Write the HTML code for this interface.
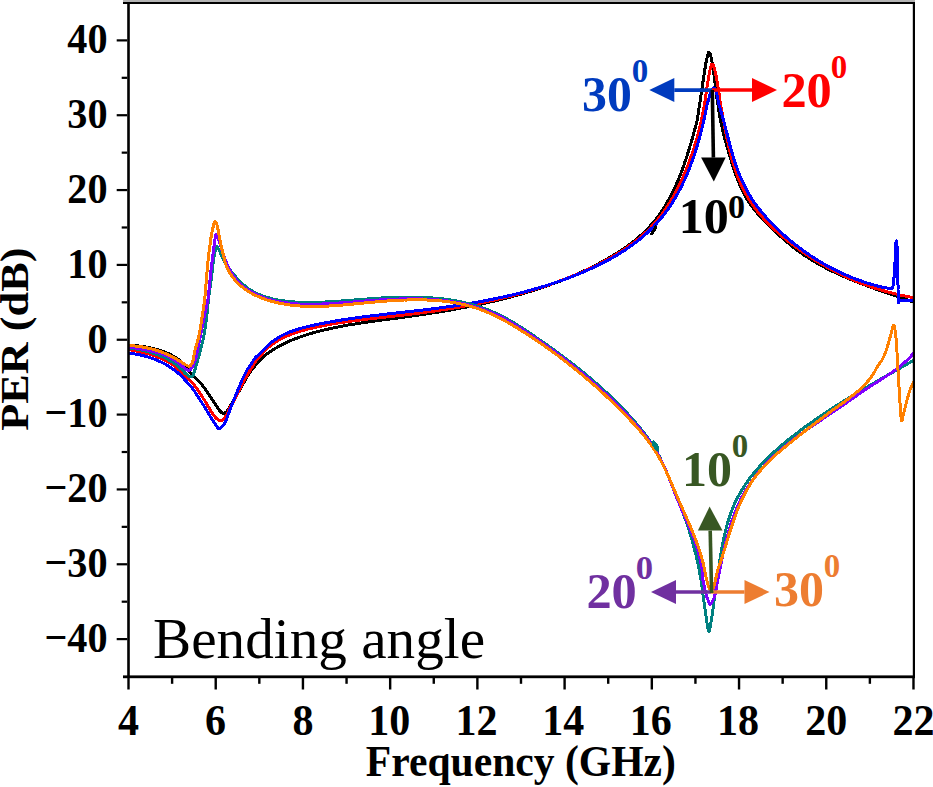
<!DOCTYPE html><html><head><meta charset="utf-8"><style>html,body{margin:0;padding:0;background:#fff;}svg{display:block;}</style></head><body><svg width="933" height="787" viewBox="0 0 933 787">
<rect width="933" height="787" fill="#fff"/>
<defs><clipPath id="cp"><rect x="129" y="3.5" width="784" height="672"/></clipPath></defs>
<g clip-path="url(#cp)" fill="none" stroke-width="3.00" stroke-linejoin="round" stroke-linecap="round" shape-rendering="crispEdges">
<path stroke="#000" d="M129.0,345.0 L131.0,345.2 L133.1,345.4 L135.1,345.6 L137.2,345.8 L139.3,346.1 L141.3,346.4 L143.4,346.7 L145.5,347.0 L147.6,347.4 L149.6,347.8 L151.7,348.2 L153.7,348.7 L155.7,349.2 L157.8,349.8 L159.8,350.4 L161.7,351.0 L163.7,351.7 L165.6,352.5 L167.5,353.2 L169.4,354.1 L171.2,355.0 L173.0,356.0 L174.8,357.0 L176.5,358.1 L178.2,359.2 L179.9,360.4 L181.5,361.7 L183.0,363.1 L184.5,364.5 L186.0,366.0 L186.0,366.0 L186.4,366.7 L187.0,367.7 L187.6,368.9 L188.4,370.1 L189.2,371.4 L190.0,372.5 L190.9,373.6 L191.9,374.6 L193.0,375.7 L194.1,376.7 L195.1,377.6 L196.0,378.5 L196.8,379.3 L197.4,379.9 L198.1,380.5 L198.7,381.1 L199.3,381.7 L200.0,382.5 L200.8,383.4 L201.6,384.4 L202.4,385.4 L203.3,386.5 L204.2,387.7 L205.0,388.8 L205.8,390.0 L206.7,391.2 L207.5,392.4 L208.3,393.7 L209.2,394.9 L210.0,396.2 L210.8,397.5 L211.7,398.7 L212.5,400.0 L213.3,401.3 L214.2,402.6 L215.0,403.8 L215.9,405.1 L216.7,406.4 L217.6,407.7 L218.5,409.0 L219.3,410.1 L220.0,411.0 L220.6,411.7 L221.1,412.3 L221.6,412.7 L222.0,413.0 L222.5,413.2 L223.0,413.3 L223.6,413.3 L224.3,413.1 L225.0,412.8 L225.7,412.3 L226.4,411.9 L227.0,411.3 L227.5,410.7 L228.0,410.0 L228.4,409.2 L228.9,408.3 L229.4,407.3 L230.0,406.3 L230.7,405.1 L231.5,403.9 L232.4,402.5 L233.3,401.1 L234.1,399.7 L235.0,398.3 L235.8,396.9 L236.7,395.4 L237.5,394.0 L238.3,392.5 L239.2,391.0 L240.0,389.5 L240.8,388.0 L241.7,386.5 L242.5,385.0 L243.3,383.4 L244.2,382.0 L245.0,380.5 L245.8,379.1 L246.7,377.6 L247.5,376.2 L248.3,374.9 L249.2,373.5 L250.0,372.3 L250.8,371.1 L251.7,370.0 L252.5,369.0 L253.3,368.0 L254.2,367.0 L255.0,366.0 L255.8,365.0 L256.7,364.1 L257.5,363.2 L258.3,362.3 L259.2,361.4 L260.0,360.5 L260.9,359.6 L261.9,358.6 L262.8,357.7 L263.7,356.8 L264.5,356.0 L265.0,355.5 L265.0,355.5 L266.6,354.3 L268.2,353.1 L269.9,351.9 L271.5,350.8 L273.2,349.7 L274.9,348.7 L276.6,347.6 L278.4,346.7 L280.1,345.7 L281.9,344.8 L283.7,343.9 L285.4,343.0 L287.3,342.1 L289.1,341.3 L290.9,340.5 L292.7,339.8 L294.6,339.0 L296.5,338.3 L298.3,337.6 L300.2,336.9 L302.1,336.3 L304.0,335.6 L305.9,335.0 L307.8,334.4 L309.8,333.8 L311.7,333.3 L313.6,332.7 L315.5,332.2 L317.5,331.7 L319.4,331.2 L321.4,330.7 L323.3,330.2 L325.3,329.7 L327.2,329.3 L329.2,328.8 L331.1,328.4 L333.1,328.0 L335.1,327.6 L337.0,327.2 L339.0,326.8 L341.0,326.4 L343.0,326.0 L345.0,325.6 L346.9,325.3 L348.9,324.9 L350.9,324.6 L352.9,324.3 L354.9,324.0 L356.9,323.6 L358.9,323.3 L360.9,323.0 L362.8,322.7 L364.8,322.4 L366.8,322.1 L368.8,321.8 L370.8,321.6 L372.8,321.3 L374.8,321.0 L376.8,320.7 L378.8,320.5 L380.8,320.2 L382.8,319.9 L384.8,319.7 L386.8,319.4 L388.9,319.1 L390.9,318.9 L392.9,318.6 L394.9,318.3 L396.9,318.1 L398.9,317.8 L400.9,317.5 L402.9,317.3 L404.9,317.0 L406.9,316.7 L408.8,316.4 L410.8,316.2 L412.8,315.9 L414.8,315.6 L416.8,315.3 L418.8,315.0 L420.8,314.7 L422.8,314.4 L424.8,314.1 L426.8,313.8 L428.8,313.5 L430.7,313.2 L432.7,312.9 L434.7,312.6 L436.7,312.3 L438.7,312.0 L440.7,311.7 L442.6,311.3 L444.6,311.0 L446.6,310.7 L448.6,310.3 L450.6,310.0 L452.5,309.6 L454.5,309.3 L456.5,308.9 L458.4,308.6 L460.4,308.2 L462.4,307.8 L464.4,307.5 L466.3,307.1 L468.3,306.7 L470.2,306.3 L472.2,305.9 L474.2,305.5 L476.1,305.1 L478.1,304.7 L480.0,304.3 L482.0,303.9 L484.0,303.4 L485.9,303.0 L487.9,302.6 L489.8,302.1 L491.8,301.7 L493.7,301.2 L495.7,300.8 L497.6,300.3 L499.5,299.8 L501.5,299.3 L503.4,298.8 L505.4,298.3 L507.3,297.8 L509.2,297.3 L511.2,296.8 L513.1,296.3 L515.0,295.8 L517.0,295.2 L518.9,294.7 L520.8,294.2 L522.7,293.6 L524.7,293.0 L526.6,292.5 L528.5,291.9 L530.4,291.3 L532.3,290.7 L534.2,290.1 L536.1,289.5 L538.1,288.9 L540.0,288.2 L541.9,287.6 L543.8,287.0 L545.7,286.3 L547.6,285.7 L549.5,285.0 L551.4,284.3 L553.3,283.6 L555.2,282.9 L557.0,282.2 L558.9,281.5 L560.8,280.8 L562.7,280.1 L564.6,279.3 L566.4,278.6 L568.3,277.8 L570.2,277.0 L572.0,276.2 L573.9,275.5 L575.7,274.7 L577.6,273.8 L579.4,273.0 L581.3,272.2 L583.1,271.3 L584.9,270.5 L586.8,269.6 L588.6,268.7 L590.4,267.9 L592.2,267.0 L594.0,266.0 L595.8,265.1 L597.6,264.2 L599.4,263.2 L601.2,262.3 L603.0,261.3 L604.7,260.3 L606.5,259.3 L608.3,258.3 L610.0,257.3 L611.8,256.3 L613.5,255.2 L615.2,254.2 L616.9,253.1 L618.7,252.0 L620.3,250.9 L622.0,249.8 L623.7,248.7 L625.4,247.5 L627.0,246.4 L628.6,245.2 L630.2,244.0 L631.8,242.8 L633.4,241.5 L635.0,240.3 L636.5,239.0 L638.0,237.8 L639.5,236.5 L641.0,235.1 L642.5,233.8 L643.9,232.4 L645.3,231.1 L646.7,229.7 L648.1,228.2 L649.5,226.8 L650.8,225.3 L652.1,223.9 L653.3,222.4 L654.6,220.8 L655.8,219.3 L657.0,217.7 L658.2,216.2 L659.3,214.6 L660.5,213.0 L661.6,211.3 L662.7,209.7 L663.7,208.0 L664.8,206.4 L665.8,204.7 L666.8,203.0 L667.8,201.2 L668.8,199.5 L669.7,197.8 L670.7,196.0 L671.6,194.2 L672.5,192.5 L673.3,190.7 L674.2,188.9 L675.1,187.0 L675.9,185.2 L676.7,183.4 L677.5,181.5 L678.3,179.7 L679.1,177.8 L679.8,175.9 L680.6,174.1 L681.3,172.2 L682.0,170.3 L682.7,168.4 L683.4,166.5 L684.1,164.6 L684.7,162.6 L685.4,160.7 L686.0,158.8 L686.7,156.9 L687.3,154.9 L687.9,153.0 L688.5,151.0 L689.1,149.1 L689.7,147.2 L690.3,145.2 L690.9,143.3 L691.4,141.3 L692.0,139.4 L692.6,137.4 L693.1,135.5 L693.6,133.5 L694.2,131.6 L694.7,129.7 L695.2,127.7 L695.8,125.8 L696.3,123.9 L696.8,121.9 L697.3,120.0 L697.3,120.0 L697.7,117.1 L698.3,113.1 L699.0,108.4 L699.8,103.3 L700.5,98.4 L701.2,94.0 L701.8,90.0 L702.4,86.1 L702.9,82.3 L703.4,78.8 L703.9,75.4 L704.4,72.4 L704.8,69.7 L705.2,67.4 L705.5,65.3 L705.8,63.4 L706.2,61.7 L706.5,60.0 L706.9,58.3 L707.2,56.6 L707.6,55.1 L708.0,53.8 L708.3,52.8 L708.7,52.3 L709.1,52.2 L709.4,52.6 L709.8,53.2 L710.2,54.2 L710.6,55.5 L711.0,57.0 L711.4,58.9 L711.8,61.1 L712.3,63.6 L712.7,66.4 L713.2,69.4 L713.6,72.4 L714.1,75.7 L714.5,79.4 L715.0,83.3 L715.4,87.1 L715.9,90.8 L716.3,94.0 L716.7,96.9 L717.2,99.7 L717.6,102.3 L717.9,104.7 L718.3,106.6 L718.5,108.0 L718.5,108.0 L718.8,110.0 L719.1,112.0 L719.4,114.0 L719.8,116.0 L720.1,118.0 L720.5,119.9 L720.9,121.9 L721.3,123.9 L721.7,125.9 L722.2,127.9 L722.6,129.8 L723.1,131.8 L723.5,133.8 L724.0,135.7 L724.5,137.7 L725.0,139.7 L725.6,141.6 L726.1,143.6 L726.6,145.6 L727.2,147.5 L727.8,149.5 L728.3,151.4 L728.9,153.4 L729.5,155.3 L730.1,157.3 L730.7,159.2 L731.3,161.2 L731.9,163.1 L732.5,165.0 L733.1,167.0 L733.8,168.9 L734.4,170.8 L735.1,172.7 L735.7,174.6 L736.4,176.5 L737.1,178.4 L737.9,180.3 L738.6,182.2 L739.4,184.0 L740.2,185.9 L741.0,187.7 L741.8,189.5 L742.7,191.3 L743.6,193.1 L744.5,194.8 L745.5,196.5 L746.4,198.3 L747.5,199.9 L748.5,201.6 L749.6,203.2 L750.7,204.9 L751.9,206.5 L753.1,208.0 L754.3,209.6 L755.5,211.1 L756.8,212.7 L758.1,214.2 L759.4,215.7 L760.8,217.1 L762.1,218.6 L763.5,220.1 L764.9,221.5 L766.4,222.9 L767.8,224.4 L769.2,225.8 L770.7,227.2 L772.1,228.6 L773.6,230.0 L775.1,231.5 L776.6,232.8 L778.1,234.2 L779.6,235.6 L781.1,237.0 L782.7,238.3 L784.2,239.7 L785.7,241.0 L787.3,242.3 L788.9,243.7 L790.5,244.9 L792.0,246.2 L793.6,247.5 L795.3,248.7 L796.9,250.0 L798.5,251.2 L800.2,252.4 L801.8,253.5 L803.5,254.7 L805.1,255.8 L806.8,256.9 L808.5,258.0 L810.2,259.1 L811.9,260.2 L813.6,261.2 L815.4,262.2 L817.1,263.2 L818.8,264.2 L820.6,265.2 L822.4,266.2 L824.1,267.1 L825.9,268.1 L827.7,269.0 L829.5,269.9 L831.3,270.8 L833.1,271.6 L834.9,272.5 L836.7,273.4 L838.5,274.2 L840.3,275.0 L842.2,275.8 L844.0,276.7 L845.9,277.4 L847.7,278.2 L849.6,279.0 L851.4,279.8 L853.3,280.5 L855.1,281.3 L857.0,282.0 L858.9,282.8 L860.8,283.5 L862.7,284.2 L864.5,284.9 L866.4,285.6 L868.3,286.3 L870.2,287.0 L872.1,287.7 L874.0,288.4 L875.9,289.1 L877.8,289.7 L879.7,290.4 L881.6,291.1 L883.5,291.8 L885.4,292.4 L887.4,293.1 L889.3,293.7 L891.2,294.4 L893.1,295.1 L895.0,295.7 L896.9,296.4 L898.8,297.0 L900.7,297.7 L902.7,298.3 L904.6,299.0 L906.5,299.7 L908.4,300.3 L910.3,301.0 L912.2,301.7 L914.1,302.3 L916.0,303.0"/>
<path stroke="#ff0000" d="M129.0,349.6 L131.0,350.0 L133.1,350.4 L135.1,350.8 L137.2,351.2 L139.2,351.6 L141.2,352.1 L143.3,352.6 L145.3,353.1 L147.4,353.6 L149.4,354.2 L151.4,354.8 L153.4,355.4 L155.3,356.1 L157.3,356.8 L159.2,357.6 L161.1,358.4 L163.0,359.2 L164.9,360.1 L166.7,361.1 L168.5,362.1 L170.3,363.2 L172.0,364.3 L173.7,365.5 L175.3,366.8 L176.9,368.1 L178.5,369.5 L180.0,371.0 L180.0,371.0 L181.1,372.1 L182.8,373.7 L184.7,375.6 L186.7,377.5 L188.5,379.3 L190.0,380.8 L191.1,381.9 L192.0,382.8 L192.8,383.6 L193.5,384.3 L194.2,385.1 L195.0,386.0 L195.8,387.1 L196.7,388.3 L197.5,389.5 L198.3,390.8 L199.2,392.0 L200.0,393.3 L200.8,394.5 L201.7,395.8 L202.5,397.1 L203.3,398.4 L204.2,399.7 L205.0,401.0 L205.8,402.4 L206.7,403.9 L207.5,405.3 L208.3,406.8 L209.2,408.2 L210.0,409.6 L210.9,410.9 L211.7,412.3 L212.6,413.6 L213.5,414.8 L214.3,415.9 L215.0,416.8 L215.6,417.5 L216.1,418.1 L216.6,418.5 L217.1,418.9 L217.5,419.2 L218.0,419.5 L218.5,419.8 L219.0,420.1 L219.5,420.3 L220.0,420.5 L220.5,420.5 L221.0,420.5 L221.5,420.4 L222.0,420.1 L222.5,419.8 L223.0,419.5 L223.5,419.0 L224.0,418.5 L224.5,417.9 L225.0,417.3 L225.5,416.5 L226.0,415.7 L226.5,414.9 L227.0,414.0 L227.5,413.1 L227.9,412.1 L228.4,411.0 L228.9,409.9 L229.4,408.7 L230.0,407.5 L230.7,406.2 L231.5,404.9 L232.4,403.5 L233.3,402.1 L234.1,400.6 L235.0,399.0 L235.8,397.4 L236.7,395.6 L237.5,393.8 L238.3,392.0 L239.2,390.2 L240.0,388.5 L240.8,386.8 L241.7,385.2 L242.5,383.6 L243.3,382.1 L244.2,380.5 L245.0,379.0 L245.8,377.5 L246.6,376.1 L247.4,374.8 L248.3,373.4 L249.1,372.0 L250.0,370.5 L251.0,368.9 L252.0,367.2 L253.1,365.5 L254.1,363.8 L255.1,362.3 L256.0,361.0 L256.8,360.0 L257.4,359.2 L258.1,358.5 L258.7,357.9 L259.3,357.3 L260.0,356.5 L260.8,355.5 L261.8,354.4 L262.8,353.2 L263.7,352.1 L264.4,351.2 L265.0,350.5 L265.0,350.5 L266.5,349.1 L268.0,347.7 L269.5,346.5 L271.1,345.2 L272.7,344.0 L274.3,342.9 L276.0,341.8 L277.7,340.8 L279.4,339.8 L281.1,338.8 L282.9,337.9 L284.7,337.1 L286.5,336.2 L288.3,335.4 L290.1,334.7 L292.0,334.0 L293.9,333.3 L295.8,332.6 L297.7,332.0 L299.6,331.4 L301.5,330.8 L303.5,330.3 L305.4,329.7 L307.4,329.2 L309.3,328.7 L311.3,328.3 L313.3,327.8 L315.3,327.4 L317.2,326.9 L319.2,326.5 L321.2,326.1 L323.2,325.7 L325.2,325.3 L327.2,324.9 L329.2,324.6 L331.1,324.2 L333.1,323.9 L335.1,323.5 L337.1,323.2 L339.1,322.9 L341.1,322.6 L343.1,322.3 L345.1,322.0 L347.1,321.7 L349.1,321.4 L351.1,321.2 L353.1,320.9 L355.1,320.6 L357.2,320.4 L359.2,320.1 L361.2,319.9 L363.2,319.6 L365.2,319.4 L367.2,319.1 L369.2,318.9 L371.2,318.7 L373.2,318.4 L375.2,318.2 L377.2,318.0 L379.3,317.8 L381.3,317.5 L383.3,317.3 L385.3,317.1 L387.3,316.9 L389.3,316.7 L391.3,316.4 L393.3,316.2 L395.3,316.0 L397.3,315.8 L399.4,315.5 L401.4,315.3 L403.4,315.1 L405.4,314.8 L407.4,314.6 L409.4,314.3 L411.4,314.1 L413.4,313.9 L415.4,313.6 L417.4,313.3 L419.4,313.1 L421.4,312.8 L423.4,312.6 L425.4,312.3 L427.4,312.0 L429.4,311.7 L431.4,311.4 L433.4,311.2 L435.4,310.9 L437.4,310.6 L439.4,310.3 L441.3,310.0 L443.3,309.7 L445.3,309.4 L447.3,309.1 L449.3,308.7 L451.3,308.4 L453.3,308.1 L455.2,307.8 L457.2,307.4 L459.2,307.1 L461.2,306.7 L463.2,306.4 L465.1,306.0 L467.1,305.7 L469.1,305.3 L471.1,304.9 L473.0,304.5 L475.0,304.2 L477.0,303.8 L478.9,303.4 L480.9,303.0 L482.9,302.6 L484.8,302.2 L486.8,301.7 L488.8,301.3 L490.7,300.9 L492.7,300.5 L494.6,300.0 L496.6,299.6 L498.6,299.1 L500.5,298.7 L502.5,298.2 L504.4,297.7 L506.4,297.2 L508.3,296.7 L510.3,296.3 L512.2,295.8 L514.1,295.3 L516.1,294.7 L518.0,294.2 L520.0,293.7 L521.9,293.2 L523.8,292.6 L525.8,292.1 L527.7,291.5 L529.6,290.9 L531.6,290.4 L533.5,289.8 L535.4,289.2 L537.3,288.6 L539.2,288.0 L541.2,287.4 L543.1,286.8 L545.0,286.2 L546.9,285.5 L548.8,284.9 L550.7,284.2 L552.6,283.6 L554.5,282.9 L556.4,282.2 L558.3,281.5 L560.2,280.8 L562.1,280.1 L564.0,279.4 L565.9,278.7 L567.8,278.0 L569.6,277.2 L571.5,276.5 L573.4,275.7 L575.3,274.9 L577.1,274.2 L579.0,273.4 L580.8,272.6 L582.7,271.7 L584.5,270.9 L586.4,270.1 L588.2,269.2 L590.0,268.4 L591.9,267.5 L593.7,266.6 L595.5,265.7 L597.3,264.8 L599.1,263.9 L600.9,263.0 L602.7,262.0 L604.5,261.1 L606.3,260.1 L608.0,259.1 L609.8,258.1 L611.6,257.1 L613.3,256.1 L615.1,255.1 L616.8,254.0 L618.5,253.0 L620.2,251.9 L621.9,250.8 L623.6,249.7 L625.3,248.6 L627.0,247.5 L628.6,246.3 L630.2,245.1 L631.9,243.9 L633.5,242.7 L635.1,241.5 L636.6,240.3 L638.2,239.0 L639.7,237.7 L641.2,236.4 L642.7,235.1 L644.2,233.8 L645.7,232.4 L647.1,231.1 L648.5,229.7 L649.9,228.3 L651.3,226.8 L652.7,225.4 L654.0,223.9 L655.3,222.4 L656.6,220.9 L657.8,219.4 L659.1,217.8 L660.3,216.3 L661.5,214.7 L662.7,213.1 L663.9,211.5 L665.0,209.8 L666.1,208.2 L667.2,206.5 L668.3,204.9 L669.4,203.2 L670.4,201.5 L671.5,199.7 L672.5,198.0 L673.5,196.3 L674.4,194.5 L675.4,192.8 L676.3,191.0 L677.3,189.2 L678.2,187.4 L679.1,185.6 L680.0,183.8 L680.8,181.9 L681.7,180.1 L682.5,178.3 L683.3,176.4 L684.1,174.5 L684.9,172.7 L685.7,170.8 L686.5,168.9 L687.2,167.0 L687.9,165.1 L688.7,163.2 L689.4,161.3 L690.1,159.4 L690.7,157.5 L691.4,155.6 L692.1,153.7 L692.7,151.8 L693.4,149.9 L694.0,147.9 L694.6,146.0 L695.2,144.1 L695.8,142.1 L696.3,140.2 L696.9,138.2 L697.5,136.3 L698.0,134.3 L698.5,132.4 L699.0,130.4 L699.5,128.5 L700.0,126.5 L700.5,124.5 L700.9,122.6 L701.3,120.6 L701.8,118.6 L702.2,116.7 L702.6,114.7 L703.0,112.7 L703.4,110.7 L703.7,108.8 L704.1,106.8 L704.4,104.8 L704.4,104.8 L704.8,102.4 L705.3,98.9 L705.9,94.8 L706.5,90.6 L707.1,86.6 L707.6,83.2 L708.1,80.4 L708.5,77.9 L708.9,75.6 L709.3,73.6 L709.6,71.7 L710.0,70.0 L710.4,68.5 L710.7,67.1 L711.0,65.9 L711.3,64.9 L711.6,64.3 L712.0,64.0 L712.4,64.1 L712.8,64.5 L713.2,65.2 L713.6,66.2 L714.1,67.5 L714.5,69.0 L715.0,70.7 L715.4,72.8 L715.9,75.1 L716.4,77.6 L716.9,80.3 L717.4,83.2 L718.0,86.6 L718.6,90.7 L719.2,94.9 L719.8,98.9 L720.2,102.4 L720.6,104.8 L720.6,104.8 L721.0,106.8 L721.3,108.8 L721.7,110.7 L722.1,112.7 L722.4,114.7 L722.8,116.7 L723.2,118.7 L723.5,120.7 L723.9,122.7 L724.3,124.7 L724.7,126.7 L725.0,128.7 L725.4,130.7 L725.8,132.7 L726.2,134.7 L726.6,136.7 L727.0,138.7 L727.4,140.7 L727.9,142.7 L728.3,144.7 L728.7,146.6 L729.2,148.6 L729.7,150.6 L730.2,152.6 L730.7,154.5 L731.2,156.5 L731.7,158.4 L732.3,160.4 L732.8,162.3 L733.4,164.2 L734.0,166.2 L734.6,168.1 L735.3,170.0 L735.9,171.9 L736.6,173.8 L737.3,175.6 L738.0,177.5 L738.8,179.4 L739.6,181.2 L740.4,183.0 L741.2,184.8 L742.1,186.6 L742.9,188.4 L743.8,190.2 L744.8,192.0 L745.7,193.7 L746.7,195.4 L747.7,197.2 L748.8,198.9 L749.8,200.5 L750.9,202.2 L752.0,203.9 L753.1,205.5 L754.3,207.1 L755.5,208.7 L756.7,210.3 L757.9,211.9 L759.2,213.4 L760.5,215.0 L761.8,216.5 L763.1,218.0 L764.4,219.5 L765.8,220.9 L767.2,222.4 L768.6,223.8 L770.0,225.2 L771.5,226.6 L772.9,228.0 L774.4,229.4 L775.9,230.8 L777.4,232.1 L778.9,233.5 L780.4,234.8 L782.0,236.1 L783.5,237.4 L785.1,238.7 L786.7,240.0 L788.2,241.3 L789.8,242.5 L791.4,243.8 L793.0,245.0 L794.7,246.2 L796.3,247.4 L797.9,248.6 L799.5,249.8 L801.2,251.0 L802.9,252.1 L804.5,253.3 L806.2,254.4 L807.9,255.5 L809.6,256.7 L811.3,257.8 L813.0,258.8 L814.7,259.9 L816.4,261.0 L818.1,262.0 L819.8,263.1 L821.6,264.1 L823.3,265.1 L825.1,266.1 L826.9,267.1 L828.6,268.1 L830.4,269.0 L832.2,270.0 L834.0,270.9 L835.8,271.8 L837.6,272.8 L839.4,273.6 L841.2,274.5 L843.0,275.4 L844.8,276.3 L846.7,277.1 L848.5,277.9 L850.4,278.7 L852.2,279.5 L854.1,280.3 L855.9,281.1 L857.8,281.9 L859.7,282.6 L861.6,283.4 L863.4,284.1 L865.3,284.8 L867.2,285.5 L869.1,286.1 L871.0,286.8 L872.9,287.5 L874.9,288.1 L876.8,288.7 L878.7,289.3 L880.6,289.9 L882.6,290.5 L884.5,291.0 L886.4,291.6 L888.4,292.1 L890.3,292.6 L892.3,293.1 L894.2,293.6 L896.2,294.1 L898.2,294.6 L900.1,295.0 L902.1,295.4 L904.1,295.8 L906.1,296.2 L908.0,296.6 L910.0,297.0 L912.0,297.3 L914.0,297.7 L916.0,298.0"/>
<path stroke="#0000ff" d="M129.0,353.0 L131.1,353.3 L133.2,353.6 L135.3,354.0 L137.4,354.3 L139.5,354.8 L141.5,355.3 L143.6,355.8 L145.7,356.3 L147.7,356.9 L149.7,357.6 L151.8,358.2 L153.8,359.0 L155.7,359.7 L157.7,360.5 L159.6,361.4 L161.6,362.3 L163.4,363.2 L165.3,364.2 L167.1,365.3 L169.0,366.4 L170.7,367.5 L172.5,368.7 L174.2,369.9 L175.8,371.2 L177.5,372.6 L179.1,373.9 L180.6,375.4 L182.1,376.9 L183.6,378.4 L185.0,380.0 L185.0,380.0 L185.5,380.6 L186.3,381.4 L187.2,382.3 L188.1,383.4 L189.1,384.5 L190.0,385.5 L190.8,386.5 L191.7,387.5 L192.5,388.6 L193.3,389.7 L194.2,390.8 L195.0,392.0 L195.8,393.3 L196.7,394.6 L197.5,395.9 L198.3,397.3 L199.2,398.7 L200.0,400.0 L200.8,401.3 L201.7,402.5 L202.5,403.8 L203.3,405.0 L204.2,406.3 L205.0,407.6 L205.8,409.0 L206.7,410.4 L207.5,411.8 L208.3,413.2 L209.2,414.6 L210.0,416.0 L210.8,417.3 L211.7,418.7 L212.6,420.0 L213.4,421.2 L214.2,422.4 L215.0,423.5 L215.7,424.6 L216.4,425.7 L217.1,426.7 L217.7,427.6 L218.3,428.3 L219.0,428.6 L219.7,428.6 L220.4,428.2 L221.1,427.7 L221.7,427.0 L222.4,426.2 L223.0,425.5 L223.5,424.8 L224.0,424.2 L224.5,423.5 L225.0,422.7 L225.5,421.7 L226.0,420.5 L226.6,419.0 L227.3,417.1 L228.0,415.2 L228.7,413.1 L229.4,411.2 L230.0,409.5 L230.6,408.0 L231.1,406.6 L231.6,405.4 L232.1,404.2 L232.6,403.1 L233.0,402.0 L233.4,401.0 L233.7,400.2 L234.0,399.4 L234.3,398.6 L234.6,397.9 L235.0,397.0 L235.4,396.1 L235.8,395.1 L236.2,394.1 L236.6,393.0 L237.1,392.0 L237.5,391.0 L237.9,390.0 L238.4,389.0 L238.8,387.9 L239.2,386.9 L239.6,385.9 L240.0,385.0 L240.4,384.1 L240.7,383.3 L241.0,382.5 L241.3,381.7 L241.6,380.9 L242.0,380.0 L242.5,379.0 L243.0,378.0 L243.5,376.9 L244.0,375.9 L244.5,374.9 L245.0,374.0 L245.4,373.2 L245.7,372.5 L246.0,371.9 L246.3,371.3 L246.6,370.6 L247.0,370.0 L247.4,369.3 L247.9,368.7 L248.4,368.1 L249.0,367.4 L249.5,366.7 L250.0,366.0 L250.5,365.2 L251.0,364.4 L251.5,363.5 L252.0,362.6 L252.5,361.8 L253.0,361.0 L253.5,360.3 L254.0,359.6 L254.4,358.9 L254.9,358.3 L255.4,357.6 L256.0,357.0 L256.6,356.4 L257.2,355.9 L257.9,355.3 L258.6,354.8 L259.3,354.2 L260.0,353.5 L260.8,352.7 L261.8,351.8 L262.8,350.8 L263.7,349.9 L264.4,349.1 L265.0,348.5 L265.0,348.5 L266.4,347.0 L267.8,345.6 L269.3,344.2 L270.8,342.9 L272.3,341.7 L273.9,340.5 L275.5,339.4 L277.1,338.3 L278.8,337.3 L280.5,336.3 L282.2,335.4 L284.0,334.5 L285.8,333.7 L287.6,332.9 L289.4,332.1 L291.2,331.4 L293.1,330.8 L295.0,330.1 L296.9,329.5 L298.8,328.9 L300.7,328.4 L302.7,327.8 L304.6,327.3 L306.6,326.8 L308.5,326.4 L310.5,325.9 L312.5,325.5 L314.5,325.0 L316.4,324.6 L318.4,324.2 L320.4,323.8 L322.4,323.4 L324.4,323.0 L326.4,322.7 L328.4,322.3 L330.4,321.9 L332.3,321.6 L334.3,321.2 L336.3,320.9 L338.3,320.6 L340.3,320.2 L342.3,319.9 L344.3,319.6 L346.3,319.3 L348.3,319.0 L350.3,318.7 L352.3,318.4 L354.3,318.1 L356.3,317.9 L358.3,317.6 L360.3,317.3 L362.3,317.0 L364.3,316.8 L366.3,316.5 L368.3,316.3 L370.3,316.0 L372.4,315.8 L374.4,315.5 L376.4,315.3 L378.4,315.1 L380.4,314.8 L382.4,314.6 L384.4,314.4 L386.4,314.1 L388.4,313.9 L390.4,313.7 L392.4,313.4 L394.4,313.2 L396.4,313.0 L398.4,312.8 L400.4,312.6 L402.4,312.3 L404.4,312.1 L406.4,311.9 L408.4,311.7 L410.4,311.4 L412.4,311.2 L414.4,311.0 L416.4,310.8 L418.4,310.5 L420.4,310.3 L422.4,310.1 L424.4,309.8 L426.4,309.6 L428.4,309.3 L430.4,309.1 L432.4,308.9 L434.4,308.6 L436.4,308.4 L438.3,308.1 L440.3,307.8 L442.3,307.6 L444.3,307.3 L446.3,307.0 L448.3,306.8 L450.2,306.5 L452.2,306.2 L454.2,305.9 L456.2,305.6 L458.2,305.3 L460.1,305.0 L462.1,304.7 L464.1,304.4 L466.0,304.1 L468.0,303.7 L470.0,303.4 L471.9,303.1 L473.9,302.7 L475.9,302.4 L477.8,302.0 L479.8,301.7 L481.8,301.3 L483.7,301.0 L485.7,300.6 L487.6,300.2 L489.6,299.8 L491.5,299.4 L493.5,299.0 L495.4,298.6 L497.4,298.2 L499.3,297.8 L501.3,297.4 L503.2,297.0 L505.2,296.5 L507.1,296.1 L509.1,295.6 L511.0,295.2 L513.0,294.7 L514.9,294.3 L516.8,293.8 L518.8,293.3 L520.7,292.8 L522.7,292.3 L524.6,291.8 L526.5,291.3 L528.5,290.8 L530.4,290.2 L532.3,289.7 L534.3,289.1 L536.2,288.6 L538.1,288.0 L540.0,287.5 L542.0,286.9 L543.9,286.3 L545.8,285.7 L547.7,285.1 L549.7,284.5 L551.6,283.8 L553.5,283.2 L555.4,282.6 L557.3,281.9 L559.2,281.3 L561.2,280.6 L563.1,279.9 L565.0,279.2 L566.9,278.5 L568.8,277.8 L570.7,277.1 L572.6,276.4 L574.5,275.6 L576.4,274.9 L578.3,274.1 L580.2,273.3 L582.1,272.6 L583.9,271.8 L585.8,271.0 L587.7,270.1 L589.5,269.3 L591.4,268.5 L593.2,267.6 L595.1,266.8 L596.9,265.9 L598.7,265.0 L600.6,264.1 L602.4,263.2 L604.2,262.2 L606.0,261.3 L607.7,260.3 L609.5,259.4 L611.3,258.4 L613.0,257.4 L614.8,256.4 L616.5,255.4 L618.2,254.3 L619.9,253.3 L621.6,252.2 L623.3,251.1 L625.0,250.1 L626.6,248.9 L628.3,247.8 L629.9,246.7 L631.5,245.5 L633.1,244.4 L634.7,243.2 L636.3,242.0 L637.9,240.7 L639.4,239.5 L640.9,238.3 L642.4,237.0 L643.9,235.7 L645.4,234.4 L646.9,233.1 L648.3,231.8 L649.7,230.4 L651.1,229.0 L652.5,227.7 L653.9,226.3 L655.2,224.8 L656.6,223.4 L657.9,221.9 L659.2,220.5 L660.4,219.0 L661.7,217.4 L662.9,215.9 L664.1,214.4 L665.3,212.8 L666.5,211.2 L667.6,209.6 L668.8,208.0 L669.9,206.4 L671.0,204.7 L672.0,203.1 L673.1,201.4 L674.1,199.7 L675.1,198.0 L676.1,196.3 L677.1,194.5 L678.1,192.8 L679.0,191.0 L680.0,189.3 L680.9,187.5 L681.8,185.7 L682.6,183.9 L683.5,182.1 L684.4,180.3 L685.2,178.4 L686.0,176.6 L686.8,174.7 L687.6,172.9 L688.4,171.0 L689.1,169.1 L689.9,167.2 L690.6,165.3 L691.3,163.4 L692.0,161.5 L692.7,159.6 L693.4,157.7 L694.0,155.8 L694.7,153.8 L695.3,151.9 L695.9,149.9 L696.5,148.0 L697.1,146.0 L697.7,144.1 L698.3,142.1 L698.8,140.2 L699.4,138.2 L699.9,136.2 L700.4,134.3 L700.9,132.3 L701.4,130.3 L701.9,128.4 L702.4,126.4 L702.9,124.4 L703.3,122.5 L703.8,120.5 L704.2,118.5 L704.7,116.6 L705.1,114.6 L705.5,112.6 L705.9,110.7 L706.3,108.7 L706.7,106.8 L707.1,104.8 L707.1,104.8 L707.5,103.4 L708.0,101.5 L708.6,99.2 L709.3,96.9 L709.9,94.7 L710.5,93.0 L711.0,91.7 L711.6,90.5 L712.1,89.5 L712.6,88.7 L713.1,88.2 L713.6,88.0 L714.1,88.2 L714.6,88.7 L715.1,89.5 L715.6,90.5 L716.0,91.7 L716.5,93.0 L717.0,94.7 L717.5,96.9 L717.9,99.2 L718.4,101.5 L718.7,103.4 L719.0,104.8 L719.0,104.8 L719.6,106.7 L720.2,108.7 L720.8,110.6 L721.4,112.6 L721.9,114.5 L722.5,116.5 L723.0,118.4 L723.6,120.4 L724.1,122.4 L724.6,124.4 L725.1,126.3 L725.6,128.3 L726.1,130.3 L726.7,132.3 L727.2,134.3 L727.7,136.3 L728.2,138.2 L728.7,140.2 L729.2,142.2 L729.7,144.2 L730.2,146.2 L730.8,148.1 L731.3,150.1 L731.9,152.1 L732.4,154.0 L733.0,156.0 L733.6,157.9 L734.2,159.9 L734.8,161.8 L735.5,163.7 L736.1,165.7 L736.8,167.6 L737.5,169.5 L738.2,171.4 L738.9,173.2 L739.7,175.1 L740.5,177.0 L741.3,178.8 L742.1,180.7 L742.9,182.5 L743.8,184.3 L744.7,186.1 L745.6,187.9 L746.5,189.7 L747.4,191.4 L748.4,193.2 L749.4,194.9 L750.5,196.6 L751.5,198.3 L752.6,200.0 L753.7,201.6 L754.9,203.3 L756.1,204.9 L757.2,206.5 L758.5,208.1 L759.7,209.7 L761.0,211.2 L762.3,212.8 L763.6,214.3 L764.9,215.8 L766.2,217.4 L767.6,218.9 L768.9,220.3 L770.3,221.8 L771.7,223.3 L773.1,224.7 L774.5,226.2 L776.0,227.6 L777.4,229.0 L778.9,230.4 L780.4,231.8 L781.9,233.2 L783.4,234.6 L784.9,235.9 L786.4,237.3 L787.9,238.6 L789.5,239.9 L791.1,241.2 L792.6,242.5 L794.2,243.8 L795.8,245.0 L797.4,246.3 L799.0,247.5 L800.7,248.7 L802.3,249.9 L804.0,251.1 L805.6,252.3 L807.3,253.5 L809.0,254.6 L810.7,255.8 L812.4,256.9 L814.1,258.0 L815.8,259.1 L817.5,260.2 L819.3,261.2 L821.0,262.3 L822.8,263.3 L824.6,264.3 L826.3,265.3 L828.1,266.3 L829.9,267.3 L831.7,268.2 L833.5,269.2 L835.4,270.1 L837.2,271.0 L839.0,271.9 L840.9,272.7 L842.7,273.6 L844.6,274.4 L846.4,275.2 L848.3,276.0 L850.2,276.8 L852.1,277.6 L854.0,278.3 L855.9,279.1 L857.8,279.8 L859.7,280.5 L861.6,281.1 L863.5,281.8 L865.4,282.4 L867.4,283.1 L869.3,283.7 L871.3,284.2 L873.2,284.8 L875.2,285.4 L877.1,285.9 L879.1,286.4 L881.0,286.9 L883.0,287.4 L885.0,287.8 L885.0,287.8 L885.7,287.9 L886.7,288.0 L887.9,288.2 L889.1,288.3 L890.2,288.4 L891.0,288.3 L891.6,288.2 L892.0,288.2 L892.3,288.2 L892.5,287.9 L892.7,287.2 L893.0,286.0 L893.3,284.2 L893.6,281.9 L893.9,279.2 L894.1,276.3 L894.4,273.2 L894.6,270.0 L894.8,266.5 L895.0,262.6 L895.1,258.4 L895.3,254.4 L895.5,250.9 L895.6,248.0 L895.7,245.8 L895.9,244.0 L896.0,242.6 L896.1,241.6 L896.3,241.1 L896.4,241.0 L896.5,241.4 L896.7,242.3 L896.8,243.7 L897.0,245.4 L897.1,247.6 L897.2,250.0 L897.3,252.9 L897.4,256.3 L897.5,260.1 L897.5,264.0 L897.6,268.1 L897.7,272.0 L897.8,276.1 L897.9,280.5 L898.0,285.0 L898.0,289.2 L898.1,293.0 L898.2,296.0 L898.3,298.2 L898.3,299.8 L898.3,300.9 L898.4,301.6 L898.5,302.1 L898.6,302.5 L898.7,302.6 L898.7,302.4 L898.7,301.9 L898.9,301.3 L899.3,300.8 L900.0,300.5 L901.2,300.3 L902.8,300.2 L904.7,300.2 L906.6,300.2 L908.5,300.2 L910.0,300.3 L911.3,300.4 L912.5,300.6 L913.6,300.9 L914.6,301.1 L915.4,301.4 L916.0,301.5"/>
<path stroke="#008080" d="M129.0,348.0 L131.1,348.3 L133.1,348.6 L135.2,348.9 L137.3,349.3 L139.3,349.7 L141.4,350.1 L143.5,350.5 L145.5,351.0 L147.6,351.6 L149.6,352.1 L151.6,352.7 L153.6,353.4 L155.6,354.0 L157.5,354.8 L159.5,355.5 L161.4,356.3 L163.3,357.2 L165.2,358.1 L167.0,359.0 L168.8,360.0 L170.6,361.1 L172.4,362.2 L174.1,363.3 L175.8,364.5 L177.4,365.8 L179.0,367.1 L180.6,368.5 L182.1,369.9 L183.6,371.4 L185.0,373.0 L185.0,373.0 L185.3,373.3 L185.8,373.7 L186.3,374.2 L186.9,374.6 L187.5,375.1 L188.0,375.5 L188.4,375.8 L188.9,376.2 L189.3,376.5 L189.7,376.8 L190.1,376.9 L190.5,377.0 L190.9,377.0 L191.3,377.0 L191.7,376.9 L192.1,376.7 L192.6,376.2 L193.0,375.5 L193.5,374.4 L193.9,373.1 L194.4,371.5 L194.9,369.8 L195.4,367.9 L196.0,366.0 L196.6,363.9 L197.3,361.6 L198.0,359.2 L198.7,356.7 L199.4,354.3 L200.0,352.0 L200.6,349.9 L201.1,347.8 L201.6,345.8 L202.1,343.9 L202.6,341.9 L203.0,340.0 L203.4,338.2 L203.7,336.4 L204.1,334.7 L204.4,332.9 L204.7,331.1 L205.0,329.0 L205.3,326.7 L205.7,324.3 L206.0,321.7 L206.4,319.1 L206.7,316.5 L207.0,314.0 L207.3,311.5 L207.5,308.9 L207.8,306.4 L208.0,303.9 L208.3,301.5 L208.5,299.2 L208.8,297.1 L209.0,295.1 L209.3,293.2 L209.5,291.4 L209.8,289.7 L210.0,288.0 L210.2,286.5 L210.4,285.2 L210.6,283.9 L210.8,282.7 L211.0,281.3 L211.2,279.8 L211.4,278.0 L211.6,276.1 L211.8,274.0 L212.1,271.9 L212.3,269.9 L212.5,268.0 L212.7,266.2 L213.0,264.5 L213.2,262.9 L213.4,261.3 L213.7,259.7 L213.9,258.2 L214.1,256.7 L214.4,255.2 L214.6,253.7 L214.8,252.3 L215.1,251.1 L215.3,250.0 L215.5,249.1 L215.7,248.2 L215.9,247.5 L216.1,247.0 L216.3,246.6 L216.6,246.5 L216.9,246.6 L217.3,247.0 L217.7,247.6 L218.1,248.3 L218.6,249.1 L219.0,250.0 L219.5,251.0 L220.0,252.1 L220.5,253.3 L221.0,254.6 L221.5,255.9 L222.0,257.0 L222.5,258.1 L223.1,259.3 L223.7,260.4 L224.2,261.5 L224.7,262.4 L225.0,263.0 L225.0,263.0 L226.2,264.6 L227.3,266.3 L228.5,267.9 L229.8,269.5 L231.0,271.1 L232.2,272.7 L233.5,274.3 L234.8,275.8 L236.1,277.3 L237.5,278.8 L238.9,280.3 L240.3,281.7 L241.7,283.1 L243.2,284.4 L244.7,285.7 L246.2,286.9 L247.8,288.1 L249.3,289.3 L251.0,290.3 L252.6,291.3 L254.3,292.3 L256.1,293.1 L257.8,294.0 L259.6,294.7 L261.4,295.5 L263.2,296.2 L265.1,296.8 L267.0,297.4 L268.9,297.9 L270.8,298.4 L272.7,298.9 L274.6,299.3 L276.6,299.7 L278.6,300.1 L280.5,300.4 L282.5,300.7 L284.5,301.0 L286.5,301.3 L288.5,301.5 L290.5,301.7 L292.5,301.9 L294.5,302.0 L296.6,302.1 L298.6,302.2 L300.6,302.3 L302.7,302.4 L304.7,302.4 L306.7,302.5 L308.8,302.5 L310.8,302.5 L312.9,302.4 L314.9,302.4 L317.0,302.4 L319.0,302.3 L321.1,302.2 L323.1,302.1 L325.2,302.0 L327.2,301.9 L329.3,301.8 L331.3,301.7 L333.3,301.6 L335.4,301.4 L337.4,301.3 L339.4,301.1 L341.4,301.0 L343.4,300.8 L345.5,300.7 L347.5,300.5 L349.5,300.4 L351.5,300.2 L353.5,300.1 L355.4,299.9 L357.4,299.7 L359.4,299.6 L361.4,299.4 L363.4,299.3 L365.3,299.1 L367.3,299.0 L369.3,298.8 L371.3,298.7 L373.2,298.6 L375.2,298.4 L377.2,298.3 L379.2,298.2 L381.1,298.0 L383.1,297.9 L385.1,297.8 L387.1,297.7 L389.1,297.6 L391.1,297.5 L393.0,297.4 L395.0,297.4 L397.0,297.3 L399.0,297.3 L401.0,297.2 L403.0,297.2 L405.0,297.1 L407.0,297.1 L409.1,297.1 L411.1,297.1 L413.1,297.1 L415.1,297.2 L417.1,297.2 L419.2,297.3 L421.2,297.3 L423.2,297.4 L425.2,297.5 L427.3,297.6 L429.3,297.7 L431.3,297.9 L433.3,298.0 L435.4,298.2 L437.4,298.4 L439.4,298.6 L441.4,298.8 L443.4,299.0 L445.4,299.3 L447.4,299.5 L449.4,299.8 L451.4,300.1 L453.4,300.4 L455.4,300.8 L457.4,301.1 L459.4,301.5 L461.3,301.9 L463.3,302.3 L465.3,302.8 L467.2,303.3 L469.2,303.7 L471.1,304.2 L473.0,304.8 L474.9,305.3 L476.9,305.9 L478.8,306.5 L480.7,307.1 L482.5,307.8 L484.4,308.4 L486.3,309.1 L488.1,309.8 L490.0,310.6 L491.8,311.4 L493.6,312.2 L495.4,313.0 L497.2,313.8 L499.0,314.7 L500.8,315.6 L502.6,316.5 L504.3,317.4 L506.1,318.4 L507.8,319.3 L509.5,320.3 L511.3,321.3 L513.0,322.3 L514.7,323.4 L516.4,324.4 L518.1,325.5 L519.8,326.5 L521.5,327.6 L523.2,328.7 L524.9,329.8 L526.6,330.9 L528.2,332.0 L529.9,333.1 L531.6,334.3 L533.2,335.4 L534.9,336.5 L536.6,337.7 L538.2,338.8 L539.9,340.0 L541.5,341.1 L543.2,342.3 L544.8,343.4 L546.5,344.6 L548.1,345.7 L549.8,346.9 L551.4,348.1 L553.0,349.3 L554.7,350.4 L556.3,351.6 L557.9,352.8 L559.6,354.0 L561.2,355.2 L562.8,356.4 L564.4,357.6 L566.0,358.8 L567.6,360.1 L569.2,361.3 L570.8,362.5 L572.4,363.7 L574.0,365.0 L575.6,366.2 L577.2,367.5 L578.7,368.7 L580.3,370.0 L581.9,371.2 L583.4,372.5 L585.0,373.8 L586.5,375.1 L588.1,376.3 L589.6,377.6 L591.1,378.9 L592.7,380.2 L594.2,381.5 L595.7,382.9 L597.2,384.2 L598.7,385.5 L600.2,386.8 L601.7,388.2 L603.2,389.5 L604.7,390.9 L606.1,392.2 L607.6,393.6 L609.1,395.0 L610.5,396.4 L612.0,397.7 L613.4,399.1 L614.8,400.5 L616.3,401.9 L617.7,403.4 L619.1,404.8 L620.5,406.2 L621.9,407.6 L623.3,409.1 L624.6,410.5 L626.0,412.0 L627.4,413.5 L628.7,414.9 L630.1,416.4 L631.4,417.9 L632.7,419.4 L634.0,420.9 L635.3,422.4 L636.6,423.9 L637.9,425.5 L639.2,427.0 L640.5,428.6 L641.8,430.1 L643.0,431.7 L644.2,433.2 L645.5,434.8 L646.7,436.4 L647.9,438.0 L649.0,439.7 L650.2,441.3 L651.3,442.9 L652.4,444.6 L653.5,446.3 L654.6,448.0 L655.6,449.7 L656.6,451.4 L657.6,453.1 L658.5,454.9 L659.5,456.7 L660.4,458.5 L661.2,460.3 L662.1,462.1 L662.9,463.9 L663.8,465.7 L664.6,467.6 L665.4,469.4 L666.2,471.3 L666.9,473.1 L667.7,475.0 L668.5,476.8 L669.3,478.7 L670.1,480.6 L670.8,482.4 L671.6,484.3 L672.4,486.2 L673.2,488.0 L673.9,489.9 L674.7,491.8 L675.5,493.6 L676.2,495.5 L677.0,497.4 L677.8,499.2 L678.5,501.1 L679.2,503.0 L680.0,504.8 L680.7,506.7 L681.4,508.6 L682.1,510.5 L682.9,512.4 L683.5,514.3 L684.2,516.1 L684.9,518.0 L685.6,519.9 L686.2,521.8 L686.9,523.7 L687.5,525.6 L688.1,527.5 L688.8,529.5 L689.4,531.4 L690.0,533.3 L690.5,535.2 L691.1,537.1 L691.7,539.0 L692.2,541.0 L692.8,542.9 L693.3,544.8 L693.8,546.8 L694.3,548.7 L694.8,550.7 L695.3,552.6 L695.8,554.5 L696.3,556.5 L696.7,558.4 L697.2,560.4 L697.6,562.4 L698.0,564.3 L698.4,566.3 L698.8,568.2 L699.2,570.2 L699.6,572.2 L699.9,574.1 L700.3,576.1 L700.6,578.1 L701.0,580.1 L701.3,582.1 L701.6,584.0 L701.9,586.0 L702.2,588.0 L702.4,590.0 L702.7,592.0 L702.9,594.0 L703.2,596.0 L703.4,598.0 L703.4,598.0 L703.7,600.3 L704.2,603.4 L704.7,607.2 L705.3,611.1 L705.8,614.8 L706.3,618.0 L706.7,620.9 L707.2,623.9 L707.6,626.8 L708.0,629.2 L708.4,630.8 L708.8,631.5 L709.2,631.0 L709.7,629.5 L710.1,627.3 L710.6,624.7 L711.0,621.8 L711.5,619.0 L712.0,615.9 L712.5,612.1 L713.1,608.2 L713.6,604.5 L714.0,601.3 L714.3,599.0 L714.3,599.0 L714.6,597.0 L714.9,595.0 L715.2,593.1 L715.5,591.1 L715.8,589.1 L716.1,587.1 L716.4,585.1 L716.6,583.0 L716.9,581.0 L717.2,579.0 L717.5,577.0 L717.8,574.9 L718.0,572.9 L718.3,570.9 L718.6,568.8 L718.9,566.8 L719.2,564.8 L719.5,562.7 L719.8,560.7 L720.1,558.7 L720.4,556.6 L720.8,554.6 L721.1,552.6 L721.5,550.5 L721.8,548.5 L722.2,546.5 L722.6,544.5 L723.0,542.5 L723.4,540.5 L723.8,538.5 L724.2,536.5 L724.7,534.5 L725.1,532.5 L725.6,530.5 L726.1,528.6 L726.6,526.6 L727.2,524.6 L727.7,522.7 L728.3,520.8 L728.9,518.9 L729.5,517.0 L730.2,515.1 L730.8,513.2 L731.5,511.3 L732.2,509.4 L733.0,507.6 L733.7,505.8 L734.5,504.0 L735.3,502.1 L736.2,500.4 L737.1,498.6 L738.0,496.8 L738.9,495.1 L739.9,493.4 L740.8,491.7 L741.9,490.0 L742.9,488.3 L744.0,486.6 L745.0,485.0 L746.2,483.3 L747.3,481.7 L748.5,480.1 L749.6,478.5 L750.8,476.9 L752.1,475.4 L753.3,473.8 L754.6,472.3 L755.9,470.7 L757.2,469.2 L758.5,467.7 L759.8,466.2 L761.2,464.7 L762.6,463.3 L764.0,461.8 L765.4,460.4 L766.8,458.9 L768.2,457.5 L769.7,456.1 L771.2,454.7 L772.6,453.3 L774.1,452.0 L775.6,450.6 L777.2,449.2 L778.7,447.9 L780.2,446.6 L781.8,445.2 L783.3,443.9 L784.9,442.6 L786.5,441.3 L788.0,440.0 L789.6,438.7 L791.2,437.5 L792.8,436.2 L794.4,435.0 L796.1,433.7 L797.7,432.5 L799.3,431.3 L800.9,430.0 L802.5,428.8 L804.2,427.6 L805.8,426.4 L807.5,425.2 L809.1,424.1 L810.8,422.9 L812.4,421.7 L814.1,420.5 L815.7,419.4 L817.4,418.2 L819.1,417.1 L820.7,416.0 L822.4,414.8 L824.1,413.7 L825.8,412.6 L827.5,411.5 L829.2,410.4 L830.9,409.3 L832.5,408.2 L834.2,407.1 L835.9,406.0 L837.7,404.9 L839.4,403.8 L841.1,402.8 L842.8,401.7 L844.5,400.6 L846.2,399.6 L847.9,398.5 L849.7,397.5 L851.4,396.4 L853.1,395.4 L854.8,394.3 L856.6,393.3 L858.3,392.3 L860.0,391.2 L861.8,390.2 L863.5,389.2 L865.2,388.2 L867.0,387.1 L868.7,386.1 L870.5,385.1 L872.2,384.1 L874.0,383.1 L875.7,382.1 L877.4,381.1 L879.2,380.1 L880.9,379.0 L882.7,378.0 L884.4,377.0 L886.2,376.0 L887.9,375.0 L889.7,374.0 L891.5,373.0 L893.2,372.0 L895.0,371.0 L896.7,370.0 L898.5,369.0 L900.2,368.0 L902.0,367.0 L903.7,366.0 L905.5,365.0 L907.2,364.0 L909.0,363.0 L910.7,362.0 L912.5,361.0 L914.2,360.0 L916.0,359.0"/>
<path stroke="#8000ff" d="M129.0,347.0 L131.0,347.3 L133.1,347.7 L135.2,348.0 L137.3,348.3 L139.3,348.7 L141.4,349.0 L143.5,349.4 L145.6,349.8 L147.7,350.2 L149.8,350.6 L151.8,351.1 L153.9,351.6 L155.9,352.1 L157.9,352.7 L159.9,353.3 L161.9,354.0 L163.9,354.7 L165.8,355.5 L167.7,356.4 L169.6,357.3 L171.4,358.3 L173.2,359.3 L175.0,360.4 L176.7,361.6 L178.4,362.9 L180.0,364.3 L180.0,364.3 L180.7,364.9 L181.7,365.7 L182.8,366.7 L184.0,367.7 L185.1,368.6 L186.0,369.3 L186.6,369.7 L187.1,370.0 L187.5,370.2 L187.8,370.3 L188.1,370.3 L188.5,370.3 L188.9,370.3 L189.3,370.2 L189.8,370.0 L190.2,369.8 L190.6,369.5 L191.0,369.0 L191.4,368.4 L191.8,367.7 L192.2,366.8 L192.7,365.9 L193.1,365.0 L193.5,364.0 L193.9,363.1 L194.3,362.2 L194.7,361.3 L195.1,360.3 L195.6,359.1 L196.0,357.5 L196.5,355.6 L197.0,353.3 L197.5,350.8 L198.0,348.2 L198.5,345.5 L199.0,343.0 L199.5,340.5 L200.0,338.0 L200.5,335.5 L201.0,333.0 L201.5,330.5 L202.0,328.0 L202.5,325.5 L203.0,323.0 L203.5,320.4 L204.0,317.9 L204.5,315.4 L205.0,313.0 L205.5,310.6 L206.1,308.4 L206.6,306.1 L207.1,303.9 L207.6,301.6 L208.0,299.2 L208.3,296.7 L208.6,294.2 L208.9,291.7 L209.1,289.1 L209.3,286.5 L209.6,284.0 L209.9,281.4 L210.1,278.8 L210.4,276.2 L210.7,273.7 L210.9,271.3 L211.2,269.0 L211.4,266.9 L211.7,265.0 L211.9,263.2 L212.1,261.5 L212.4,259.8 L212.6,258.0 L212.8,256.2 L213.0,254.5 L213.2,252.8 L213.4,251.1 L213.6,249.3 L213.9,247.4 L214.2,245.2 L214.5,242.7 L214.9,240.1 L215.2,237.7 L215.6,235.7 L215.9,234.5 L216.2,234.1 L216.6,234.4 L217.0,235.1 L217.3,236.0 L217.7,237.1 L218.0,238.0 L218.3,238.8 L218.7,239.7 L219.0,240.7 L219.3,241.8 L219.6,242.9 L220.0,244.0 L220.4,245.3 L220.9,246.8 L221.4,248.4 L221.8,249.9 L222.2,251.1 L222.5,252.0 L222.5,252.0 L223.1,253.9 L223.8,255.8 L224.5,257.7 L225.2,259.6 L225.9,261.5 L226.7,263.4 L227.5,265.2 L228.4,267.1 L229.3,268.9 L230.3,270.7 L231.3,272.4 L232.3,274.2 L233.4,275.8 L234.5,277.4 L235.8,279.0 L237.0,280.5 L238.3,282.0 L239.7,283.4 L241.1,284.7 L242.6,286.0 L244.1,287.2 L245.7,288.4 L247.3,289.5 L249.0,290.5 L250.7,291.5 L252.4,292.5 L254.1,293.4 L255.9,294.3 L257.7,295.1 L259.5,295.9 L261.3,296.6 L263.2,297.3 L265.0,298.0 L266.9,298.6 L268.8,299.2 L270.7,299.7 L272.6,300.2 L274.5,300.7 L276.4,301.1 L278.4,301.5 L280.3,301.9 L282.2,302.3 L284.2,302.6 L286.2,302.8 L288.1,303.1 L290.1,303.3 L292.1,303.5 L294.1,303.7 L296.1,303.8 L298.1,304.0 L300.1,304.1 L302.1,304.2 L304.1,304.2 L306.1,304.3 L308.2,304.3 L310.2,304.3 L312.2,304.3 L314.3,304.3 L316.3,304.2 L318.3,304.2 L320.4,304.1 L322.4,304.0 L324.5,303.9 L326.5,303.8 L328.6,303.7 L330.6,303.6 L332.7,303.4 L334.7,303.3 L336.7,303.2 L338.8,303.0 L340.8,302.9 L342.9,302.7 L344.9,302.6 L346.9,302.4 L349.0,302.3 L351.0,302.1 L353.0,302.0 L355.1,301.8 L357.1,301.6 L359.1,301.5 L361.2,301.3 L363.2,301.2 L365.2,301.0 L367.2,300.9 L369.2,300.7 L371.3,300.6 L373.3,300.4 L375.3,300.3 L377.3,300.1 L379.3,300.0 L381.3,299.9 L383.3,299.8 L385.3,299.6 L387.3,299.5 L389.3,299.4 L391.3,299.3 L393.3,299.2 L395.3,299.1 L397.3,299.1 L399.3,299.0 L401.3,298.9 L403.3,298.9 L405.3,298.9 L407.3,298.8 L409.3,298.8 L411.3,298.8 L413.3,298.8 L415.3,298.8 L417.2,298.8 L419.2,298.9 L421.2,298.9 L423.2,299.0 L425.2,299.1 L427.1,299.2 L429.1,299.3 L431.1,299.4 L433.1,299.5 L435.1,299.7 L437.0,299.8 L439.0,300.0 L441.0,300.2 L442.9,300.4 L444.9,300.7 L446.9,300.9 L448.8,301.2 L450.8,301.5 L452.8,301.8 L454.7,302.1 L456.7,302.4 L458.6,302.8 L460.6,303.2 L462.6,303.6 L464.5,304.0 L466.5,304.5 L468.4,305.0 L470.4,305.5 L472.3,306.0 L474.3,306.5 L476.2,307.1 L478.1,307.7 L480.1,308.3 L482.0,308.9 L483.9,309.6 L485.8,310.3 L487.7,311.0 L489.6,311.7 L491.4,312.5 L493.3,313.2 L495.1,314.1 L497.0,314.9 L498.8,315.7 L500.6,316.6 L502.4,317.6 L504.1,318.5 L505.9,319.4 L507.6,320.4 L509.4,321.4 L511.1,322.4 L512.8,323.5 L514.5,324.5 L516.2,325.6 L517.9,326.6 L519.6,327.7 L521.3,328.8 L523.0,329.9 L524.7,331.0 L526.3,332.1 L528.0,333.2 L529.7,334.3 L531.4,335.4 L533.0,336.5 L534.7,337.6 L536.3,338.7 L538.0,339.9 L539.7,341.0 L541.3,342.1 L542.9,343.3 L544.6,344.4 L546.2,345.6 L547.9,346.7 L549.5,347.9 L551.1,349.1 L552.7,350.3 L554.4,351.4 L556.0,352.6 L557.6,353.8 L559.2,355.0 L560.8,356.2 L562.4,357.4 L564.0,358.7 L565.6,359.9 L567.2,361.1 L568.8,362.3 L570.4,363.6 L571.9,364.8 L573.5,366.1 L575.1,367.3 L576.6,368.6 L578.2,369.8 L579.7,371.1 L581.3,372.4 L582.8,373.7 L584.4,374.9 L585.9,376.2 L587.4,377.5 L589.0,378.8 L590.5,380.1 L592.0,381.5 L593.5,382.8 L595.0,384.1 L596.5,385.4 L598.0,386.8 L599.5,388.1 L601.0,389.5 L602.5,390.8 L604.0,392.2 L605.4,393.5 L606.9,394.9 L608.4,396.3 L609.8,397.7 L611.3,399.1 L612.7,400.5 L614.2,401.9 L615.6,403.3 L617.0,404.7 L618.5,406.1 L619.9,407.5 L621.3,408.9 L622.7,410.4 L624.1,411.8 L625.5,413.3 L626.9,414.7 L628.3,416.2 L629.6,417.6 L631.0,419.1 L632.4,420.6 L633.7,422.1 L635.1,423.6 L636.4,425.1 L637.7,426.6 L639.1,428.1 L640.4,429.6 L641.6,431.2 L642.9,432.7 L644.2,434.3 L645.4,435.8 L646.7,437.4 L647.9,439.0 L649.0,440.6 L650.2,442.2 L651.4,443.8 L652.5,445.5 L653.6,447.1 L654.7,448.8 L655.7,450.5 L656.8,452.2 L657.8,453.9 L658.7,455.6 L659.7,457.4 L660.6,459.2 L661.5,460.9 L662.4,462.7 L663.2,464.5 L664.1,466.3 L664.9,468.2 L665.7,470.0 L666.5,471.8 L667.3,473.7 L668.0,475.6 L668.8,477.4 L669.6,479.3 L670.3,481.2 L671.0,483.0 L671.8,484.9 L672.5,486.8 L673.2,488.7 L674.0,490.6 L674.7,492.5 L675.5,494.4 L676.2,496.2 L676.9,498.1 L677.7,500.0 L678.5,501.9 L679.3,503.7 L680.0,505.6 L680.8,507.5 L681.6,509.3 L682.4,511.2 L683.2,513.0 L684.0,514.9 L684.8,516.7 L685.6,518.6 L686.4,520.4 L687.2,522.3 L688.0,524.1 L688.8,526.0 L689.6,527.8 L690.4,529.7 L691.1,531.5 L691.9,533.4 L692.6,535.3 L693.3,537.1 L694.0,539.0 L694.7,540.9 L695.3,542.8 L696.0,544.6 L696.6,546.5 L697.2,548.4 L697.8,550.3 L698.4,552.3 L698.9,554.2 L699.4,556.1 L699.9,558.0 L700.3,560.0 L700.7,561.9 L701.1,563.9 L701.5,565.9 L701.8,567.9 L702.1,569.8 L702.3,571.9 L702.5,573.9 L702.7,575.9 L702.8,577.9 L702.9,580.0 L702.9,580.0 L703.3,581.7 L703.8,584.2 L704.5,587.1 L705.1,590.1 L705.8,592.8 L706.3,595.0 L706.7,596.6 L707.1,597.8 L707.5,598.7 L707.8,599.5 L708.2,600.3 L708.5,601.0 L708.8,601.8 L709.1,602.5 L709.4,603.2 L709.7,603.8 L710.0,604.2 L710.3,604.3 L710.6,604.2 L711.0,603.8 L711.4,603.2 L711.7,602.5 L712.1,601.8 L712.5,601.0 L712.9,600.3 L713.3,599.5 L713.7,598.7 L714.1,597.8 L714.5,596.6 L714.9,595.0 L715.4,592.8 L715.9,590.1 L716.5,587.1 L717.0,584.2 L717.4,581.7 L717.7,580.0 L717.7,580.0 L718.1,578.0 L718.5,576.1 L718.9,574.1 L719.3,572.1 L719.7,570.1 L720.1,568.1 L720.5,566.1 L720.9,564.2 L721.3,562.2 L721.7,560.2 L722.2,558.2 L722.6,556.2 L723.0,554.2 L723.5,552.2 L723.9,550.2 L724.4,548.2 L724.8,546.2 L725.3,544.2 L725.8,542.2 L726.3,540.2 L726.8,538.2 L727.3,536.3 L727.9,534.3 L728.4,532.3 L729.0,530.4 L729.5,528.4 L730.1,526.5 L730.7,524.5 L731.4,522.6 L732.0,520.7 L732.7,518.8 L733.3,516.9 L734.0,515.0 L734.7,513.1 L735.5,511.2 L736.2,509.3 L737.0,507.5 L737.8,505.6 L738.6,503.8 L739.5,502.0 L740.3,500.2 L741.2,498.4 L742.1,496.6 L743.1,494.9 L744.0,493.1 L745.0,491.4 L746.0,489.7 L747.1,488.0 L748.2,486.3 L749.2,484.7 L750.4,483.0 L751.5,481.4 L752.7,479.8 L753.9,478.2 L755.1,476.6 L756.3,475.0 L757.6,473.5 L758.9,471.9 L760.2,470.4 L761.5,468.9 L762.8,467.4 L764.2,465.9 L765.6,464.4 L767.0,463.0 L768.4,461.5 L769.8,460.1 L771.3,458.7 L772.7,457.3 L774.2,455.9 L775.7,454.5 L777.2,453.2 L778.7,451.8 L780.2,450.5 L781.8,449.1 L783.3,447.8 L784.9,446.5 L786.4,445.2 L788.0,443.9 L789.6,442.6 L791.2,441.4 L792.8,440.1 L794.4,438.9 L796.0,437.6 L797.7,436.4 L799.3,435.2 L800.9,434.0 L802.6,432.8 L804.2,431.6 L805.9,430.4 L807.5,429.3 L809.2,428.1 L810.8,426.9 L812.5,425.8 L814.1,424.7 L815.8,423.5 L817.5,422.4 L819.1,421.3 L820.8,420.2 L822.4,419.0 L824.1,417.9 L825.7,416.8 L827.4,415.7 L829.1,414.6 L830.7,413.5 L832.4,412.4 L834.0,411.3 L835.7,410.2 L837.3,409.0 L839.0,407.9 L840.6,406.8 L842.3,405.6 L843.9,404.5 L845.6,403.4 L847.2,402.2 L848.9,401.1 L850.5,399.9 L852.2,398.8 L853.8,397.6 L855.5,396.4 L857.1,395.3 L858.8,394.1 L860.5,393.0 L862.1,391.9 L863.8,390.7 L865.5,389.6 L867.2,388.5 L868.9,387.4 L870.6,386.2 L872.3,385.1 L874.0,384.0 L875.7,383.0 L877.4,381.9 L879.1,380.8 L880.8,379.7 L882.5,378.6 L884.2,377.5 L885.9,376.4 L887.6,375.3 L889.3,374.1 L891.0,373.0 L892.6,371.9 L894.3,370.7 L895.9,369.5 L897.5,368.3 L899.1,367.1 L900.7,365.8 L902.2,364.5 L903.7,363.2 L905.2,361.9 L906.7,360.6 L908.1,359.2 L909.5,357.7 L910.9,356.3 L912.2,354.8 L913.5,353.2 L914.8,351.6 L916.0,350.0"/>
<path stroke="#ff8000" d="M129.0,345.5 L131.1,345.6 L133.1,345.8 L135.2,346.0 L137.3,346.2 L139.3,346.5 L141.4,346.8 L143.5,347.2 L145.5,347.5 L147.5,348.0 L149.6,348.4 L151.6,348.9 L153.6,349.4 L155.6,350.0 L157.6,350.6 L159.5,351.3 L161.5,352.0 L163.4,352.7 L165.3,353.5 L167.3,354.3 L169.1,355.2 L171.0,356.1 L172.8,357.0 L174.7,358.0 L176.5,359.1 L178.2,360.2 L180.0,361.3 L180.0,361.3 L180.7,361.7 L181.7,362.4 L182.8,363.1 L184.0,363.8 L185.1,364.5 L186.0,365.0 L186.6,365.4 L187.1,365.6 L187.5,365.8 L187.8,366.0 L188.1,366.1 L188.5,366.1 L188.9,366.1 L189.4,366.0 L189.8,365.9 L190.2,365.7 L190.6,365.4 L191.0,365.0 L191.4,364.5 L191.7,364.0 L192.0,363.3 L192.4,362.6 L192.7,361.6 L193.0,360.5 L193.3,359.1 L193.7,357.3 L194.0,355.4 L194.3,353.4 L194.7,351.6 L195.0,350.0 L195.3,348.7 L195.7,347.5 L196.0,346.5 L196.3,345.5 L196.7,344.4 L197.0,343.3 L197.3,342.1 L197.7,340.9 L198.0,339.7 L198.3,338.4 L198.7,337.0 L199.0,335.5 L199.3,333.8 L199.7,332.0 L200.0,330.1 L200.3,328.1 L200.7,326.0 L201.0,324.0 L201.3,321.9 L201.7,319.7 L202.0,317.5 L202.4,315.3 L202.7,313.1 L203.0,311.0 L203.3,309.1 L203.6,307.3 L203.9,305.5 L204.1,303.7 L204.4,301.6 L204.7,299.2 L205.0,296.4 L205.3,293.4 L205.5,290.1 L205.8,286.7 L206.1,283.2 L206.4,279.8 L206.7,276.2 L207.0,272.5 L207.3,268.6 L207.7,264.9 L208.0,261.3 L208.3,258.2 L208.6,255.5 L208.9,253.0 L209.2,250.8 L209.5,248.7 L209.7,246.8 L210.0,245.0 L210.2,243.3 L210.4,241.9 L210.6,240.7 L210.7,239.4 L210.9,238.1 L211.2,236.6 L211.5,234.9 L211.9,232.9 L212.3,230.9 L212.7,229.0 L213.1,227.3 L213.4,225.8 L213.7,224.6 L214.0,223.6 L214.2,222.7 L214.4,222.1 L214.7,221.6 L215.0,221.5 L215.3,221.6 L215.7,222.1 L216.1,222.7 L216.5,223.6 L216.8,224.6 L217.2,225.8 L217.6,227.2 L217.9,228.9 L218.2,230.8 L218.6,232.8 L218.9,234.7 L219.3,236.6 L219.7,238.4 L220.0,240.2 L220.4,242.0 L220.7,243.8 L221.1,245.6 L221.5,247.4 L222.0,249.3 L222.5,251.4 L223.0,253.5 L223.5,255.4 L223.9,257.0 L224.2,258.2 L224.2,258.2 L224.6,260.2 L225.1,262.2 L225.7,264.1 L226.4,266.0 L227.2,267.9 L228.0,269.7 L228.9,271.4 L229.9,273.2 L231.0,274.8 L232.1,276.5 L233.3,278.1 L234.5,279.6 L235.8,281.1 L237.2,282.5 L238.6,283.9 L240.0,285.3 L241.6,286.6 L243.1,287.8 L244.7,289.0 L246.3,290.1 L248.0,291.2 L249.7,292.3 L251.5,293.3 L253.2,294.2 L255.0,295.1 L256.8,296.0 L258.7,296.8 L260.6,297.6 L262.4,298.3 L264.3,299.0 L266.3,299.7 L268.2,300.3 L270.1,300.9 L272.1,301.4 L274.0,301.9 L275.9,302.4 L277.9,302.9 L279.8,303.3 L281.8,303.7 L283.8,304.0 L285.7,304.4 L287.7,304.7 L289.6,304.9 L291.6,305.2 L293.6,305.4 L295.5,305.6 L297.5,305.8 L299.5,306.0 L301.5,306.1 L303.4,306.2 L305.4,306.3 L307.4,306.4 L309.4,306.4 L311.4,306.4 L313.4,306.5 L315.4,306.4 L317.4,306.4 L319.4,306.4 L321.4,306.3 L323.4,306.3 L325.4,306.2 L327.4,306.1 L329.4,306.0 L331.4,305.9 L333.4,305.7 L335.4,305.6 L337.4,305.5 L339.4,305.3 L341.5,305.1 L343.5,305.0 L345.5,304.8 L347.5,304.6 L349.5,304.4 L351.6,304.2 L353.6,304.0 L355.6,303.8 L357.7,303.6 L359.7,303.4 L361.7,303.2 L363.8,303.0 L365.8,302.8 L367.8,302.6 L369.9,302.4 L371.9,302.3 L374.0,302.1 L376.0,301.9 L378.0,301.7 L380.1,301.5 L382.1,301.4 L384.2,301.2 L386.2,301.1 L388.3,300.9 L390.3,300.8 L392.3,300.6 L394.4,300.5 L396.4,300.4 L398.5,300.3 L400.5,300.2 L402.5,300.1 L404.6,300.0 L406.6,300.0 L408.7,299.9 L410.7,299.9 L412.7,299.8 L414.7,299.8 L416.8,299.8 L418.8,299.8 L420.8,299.8 L422.8,299.9 L424.8,299.9 L426.9,300.0 L428.9,300.1 L430.9,300.2 L432.9,300.3 L434.9,300.4 L436.9,300.6 L438.9,300.7 L440.8,300.9 L442.8,301.1 L444.8,301.4 L446.8,301.6 L448.7,301.9 L450.7,302.1 L452.6,302.5 L454.6,302.8 L456.5,303.1 L458.5,303.5 L460.4,303.9 L462.3,304.3 L464.3,304.7 L466.2,305.2 L468.1,305.7 L470.0,306.2 L471.9,306.8 L473.8,307.3 L475.6,307.9 L477.5,308.5 L479.4,309.2 L481.2,309.8 L483.1,310.5 L484.9,311.3 L486.7,312.0 L488.6,312.8 L490.4,313.6 L492.2,314.4 L494.0,315.3 L495.8,316.1 L497.6,317.0 L499.4,317.9 L501.2,318.8 L502.9,319.8 L504.7,320.7 L506.5,321.7 L508.2,322.7 L510.0,323.7 L511.7,324.7 L513.4,325.8 L515.2,326.8 L516.9,327.8 L518.6,328.9 L520.3,330.0 L522.0,331.1 L523.8,332.1 L525.5,333.2 L527.2,334.3 L528.8,335.4 L530.5,336.5 L532.2,337.7 L533.9,338.8 L535.6,339.9 L537.3,341.0 L538.9,342.2 L540.6,343.3 L542.2,344.4 L543.9,345.6 L545.5,346.8 L547.2,347.9 L548.8,349.1 L550.5,350.3 L552.1,351.4 L553.7,352.6 L555.3,353.8 L557.0,355.0 L558.6,356.2 L560.2,357.4 L561.8,358.6 L563.4,359.9 L565.0,361.1 L566.6,362.3 L568.2,363.5 L569.7,364.8 L571.3,366.0 L572.9,367.3 L574.4,368.5 L576.0,369.8 L577.6,371.1 L579.1,372.3 L580.7,373.6 L582.2,374.9 L583.7,376.2 L585.3,377.5 L586.8,378.8 L588.3,380.1 L589.9,381.4 L591.4,382.7 L592.9,384.0 L594.4,385.4 L595.9,386.7 L597.4,388.0 L598.9,389.4 L600.4,390.7 L601.8,392.1 L603.3,393.4 L604.8,394.8 L606.3,396.2 L607.7,397.6 L609.2,398.9 L610.6,400.3 L612.1,401.7 L613.5,403.1 L615.0,404.5 L616.4,405.9 L617.8,407.3 L619.2,408.8 L620.7,410.2 L622.1,411.6 L623.5,413.1 L624.9,414.5 L626.3,415.9 L627.7,417.4 L629.1,418.9 L630.4,420.3 L631.8,421.8 L633.2,423.3 L634.6,424.7 L635.9,426.2 L637.3,427.7 L638.6,429.2 L639.9,430.8 L641.2,432.3 L642.5,433.8 L643.8,435.4 L645.0,436.9 L646.3,438.5 L647.5,440.1 L648.7,441.7 L649.9,443.3 L651.1,444.9 L652.2,446.5 L653.3,448.2 L654.4,449.8 L655.5,451.5 L656.5,453.2 L657.5,454.9 L658.5,456.6 L659.5,458.4 L660.5,460.1 L661.4,461.9 L662.4,463.6 L663.3,465.4 L664.1,467.2 L665.0,469.0 L665.9,470.8 L666.7,472.6 L667.6,474.5 L668.4,476.3 L669.2,478.1 L670.0,480.0 L670.9,481.8 L671.7,483.7 L672.5,485.5 L673.2,487.4 L674.0,489.2 L674.8,491.1 L675.6,492.9 L676.4,494.8 L677.2,496.6 L678.0,498.5 L678.8,500.4 L679.6,502.2 L680.4,504.1 L681.2,505.9 L682.1,507.7 L682.9,509.6 L683.7,511.4 L684.5,513.3 L685.3,515.1 L686.2,517.0 L687.0,518.8 L687.8,520.7 L688.6,522.5 L689.4,524.3 L690.2,526.2 L691.0,528.0 L691.8,529.9 L692.5,531.8 L693.3,533.6 L694.0,535.5 L694.8,537.4 L695.5,539.2 L696.2,541.1 L696.9,543.0 L697.6,544.9 L698.2,546.8 L698.9,548.7 L699.5,550.6 L700.1,552.5 L700.7,554.4 L701.3,556.3 L701.8,558.2 L702.4,560.2 L702.9,562.1 L703.3,564.1 L703.8,566.0 L704.2,568.0 L704.6,570.0 L704.6,570.0 L705.0,571.7 L705.5,574.2 L706.1,577.2 L706.8,580.1 L707.4,582.9 L708.0,585.0 L708.5,586.5 L708.9,587.8 L709.3,588.8 L709.7,589.5 L710.1,590.1 L710.5,590.5 L710.9,590.7 L711.2,590.6 L711.5,590.3 L711.9,589.9 L712.2,589.5 L712.5,589.0 L712.8,588.6 L713.1,588.3 L713.3,587.8 L713.6,587.2 L713.9,586.3 L714.3,585.0 L714.8,583.0 L715.4,580.3 L716.1,577.2 L716.8,574.3 L717.3,571.8 L717.7,570.0 L717.7,570.0 L718.4,568.1 L719.0,566.2 L719.7,564.3 L720.3,562.4 L721.0,560.5 L721.6,558.6 L722.2,556.7 L722.8,554.7 L723.4,552.8 L724.1,550.9 L724.7,548.9 L725.3,547.0 L725.8,545.0 L726.4,543.1 L727.0,541.1 L727.6,539.2 L728.2,537.2 L728.8,535.3 L729.4,533.4 L730.0,531.4 L730.7,529.5 L731.3,527.5 L731.9,525.6 L732.6,523.7 L733.2,521.8 L733.9,519.9 L734.5,517.9 L735.2,516.0 L735.9,514.1 L736.6,512.3 L737.3,510.4 L738.1,508.5 L738.8,506.7 L739.6,504.8 L740.4,503.0 L741.2,501.2 L742.0,499.3 L742.9,497.5 L743.7,495.8 L744.6,494.0 L745.5,492.2 L746.5,490.5 L747.5,488.8 L748.5,487.1 L749.5,485.4 L750.5,483.7 L751.6,482.0 L752.7,480.4 L753.9,478.8 L755.0,477.2 L756.2,475.6 L757.5,474.0 L758.7,472.5 L760.0,471.0 L761.3,469.5 L762.6,468.0 L764.0,466.5 L765.4,465.0 L766.8,463.6 L768.2,462.1 L769.6,460.7 L771.1,459.3 L772.5,457.9 L774.0,456.5 L775.5,455.2 L777.0,453.8 L778.6,452.5 L780.1,451.1 L781.7,449.8 L783.2,448.5 L784.8,447.2 L786.3,445.9 L787.9,444.6 L789.5,443.3 L791.1,442.0 L792.7,440.7 L794.3,439.5 L795.9,438.2 L797.5,436.9 L799.0,435.7 L800.6,434.5 L802.2,433.2 L803.8,432.0 L805.4,430.7 L807.0,429.5 L808.6,428.3 L810.2,427.1 L811.8,425.9 L813.4,424.6 L815.0,423.4 L816.6,422.2 L818.2,421.0 L819.8,419.8 L821.4,418.6 L823.0,417.4 L824.6,416.2 L826.3,415.0 L827.9,413.8 L829.5,412.6 L831.1,411.4 L832.7,410.2 L834.4,409.0 L836.0,407.8 L837.6,406.6 L839.3,405.5 L840.9,404.3 L842.6,403.1 L844.2,401.9 L845.8,400.7 L847.5,399.4 L849.1,398.2 L850.7,397.0 L852.3,395.7 L853.9,394.5 L855.5,393.2 L857.1,391.9 L858.6,390.6 L860.1,389.2 L861.6,387.9 L863.0,386.5 L864.4,385.1 L865.8,383.6 L867.1,382.1 L868.4,380.6 L869.7,379.0 L870.9,377.5 L872.0,375.8 L873.1,374.2 L874.2,372.4 L875.2,370.7 L876.1,368.9 L877.0,367.0 L877.0,367.0 L877.6,366.3 L878.3,365.3 L879.2,364.1 L880.2,362.7 L881.2,361.4 L882.0,360.0 L882.7,358.6 L883.4,357.2 L884.1,355.7 L884.8,354.1 L885.4,352.6 L886.0,351.0 L886.6,349.4 L887.1,347.7 L887.6,346.0 L888.1,344.3 L888.5,342.6 L889.0,341.0 L889.5,339.4 L889.9,337.8 L890.3,336.3 L890.7,334.8 L891.1,333.4 L891.5,332.0 L891.9,330.6 L892.2,329.1 L892.6,327.7 L892.9,326.5 L893.2,325.6 L893.5,325.2 L893.8,325.3 L894.1,325.9 L894.4,326.8 L894.7,328.0 L894.9,329.4 L895.2,331.0 L895.4,332.7 L895.7,334.7 L895.9,336.8 L896.1,339.2 L896.3,341.9 L896.5,345.0 L896.7,348.5 L897.0,352.3 L897.2,356.5 L897.5,360.9 L897.7,365.4 L898.0,370.0 L898.3,374.8 L898.6,380.0 L898.9,385.3 L899.2,390.5 L899.5,395.5 L899.8,400.0 L900.1,404.3 L900.4,408.5 L900.6,412.4 L900.9,415.9 L901.2,418.6 L901.5,420.3 L901.8,420.8 L902.1,420.3 L902.5,419.0 L902.8,417.4 L903.1,415.6 L903.5,414.0 L903.9,412.6 L904.2,411.1 L904.6,409.5 L905.0,407.8 L905.5,406.0 L906.0,404.0 L906.6,401.7 L907.3,399.2 L908.0,396.6 L908.8,393.9 L909.6,391.3 L910.4,389.0 L911.3,386.8 L912.4,384.6 L913.5,382.6 L914.5,380.7 L915.4,379.2 L916.0,378.0"/>
<path stroke="#000" d="M651.8,234 L655.8,227"/>
<path fill="#008080" stroke="none" d="M651.5,441.5 L653.5,439.8 L656.5,442.5 L658.6,446.5 L659.5,452 L656,450.5 L652.5,446 Z"/>
</g>
<rect x="123" y="0" width="792" height="2" fill="#b4b4b4"/>
<g fill="#000">
<rect x="123" y="2" width="792" height="2"/>
<rect x="127.2" y="2" width="2.6" height="676"/>
<rect x="912.8" y="2" width="2.2" height="676"/>
<rect x="123" y="675.4" width="792" height="2.8"/>
<rect x="116.7" y="638.01" width="10.5" height="2.2"/>
<rect x="121.7" y="600.59" width="5.5" height="2.2"/>
<rect x="116.7" y="563.17" width="10.5" height="2.2"/>
<rect x="121.7" y="525.75" width="5.5" height="2.2"/>
<rect x="116.7" y="488.33" width="10.5" height="2.2"/>
<rect x="121.7" y="450.91" width="5.5" height="2.2"/>
<rect x="116.7" y="413.49" width="10.5" height="2.2"/>
<rect x="121.7" y="376.07" width="5.5" height="2.2"/>
<rect x="116.7" y="338.65" width="10.5" height="2.2"/>
<rect x="121.7" y="301.23" width="5.5" height="2.2"/>
<rect x="116.7" y="263.81" width="10.5" height="2.2"/>
<rect x="121.7" y="226.39" width="5.5" height="2.2"/>
<rect x="116.7" y="188.97" width="10.5" height="2.2"/>
<rect x="121.7" y="151.55" width="5.5" height="2.2"/>
<rect x="116.7" y="114.13" width="10.5" height="2.2"/>
<rect x="121.7" y="76.71" width="5.5" height="2.2"/>
<rect x="116.7" y="39.29" width="10.5" height="2.2"/>
<rect x="127.30" y="678" width="2.4" height="11.5"/>
<rect x="170.91" y="678" width="2.4" height="5.8"/>
<rect x="214.52" y="678" width="2.4" height="11.5"/>
<rect x="258.13" y="678" width="2.4" height="5.8"/>
<rect x="301.74" y="678" width="2.4" height="11.5"/>
<rect x="345.35" y="678" width="2.4" height="5.8"/>
<rect x="388.96" y="678" width="2.4" height="11.5"/>
<rect x="432.57" y="678" width="2.4" height="5.8"/>
<rect x="476.18" y="678" width="2.4" height="11.5"/>
<rect x="519.79" y="678" width="2.4" height="5.8"/>
<rect x="563.40" y="678" width="2.4" height="11.5"/>
<rect x="607.01" y="678" width="2.4" height="5.8"/>
<rect x="650.62" y="678" width="2.4" height="11.5"/>
<rect x="694.23" y="678" width="2.4" height="5.8"/>
<rect x="737.84" y="678" width="2.4" height="11.5"/>
<rect x="781.45" y="678" width="2.4" height="5.8"/>
<rect x="825.06" y="678" width="2.4" height="11.5"/>
<rect x="868.67" y="678" width="2.4" height="5.8"/>
<rect x="912.28" y="678" width="2.4" height="11.5"/>
</g>
<text font-family="Liberation Serif" font-weight="bold" font-size="42.8" transform="translate(44.38,651.89) scale(0.94,1)">−40</text>
<text font-family="Liberation Serif" font-weight="bold" font-size="42.8" transform="translate(44.38,577.05) scale(0.94,1)">−30</text>
<text font-family="Liberation Serif" font-weight="bold" font-size="42.8" transform="translate(44.38,502.21) scale(0.94,1)">−20</text>
<text font-family="Liberation Serif" font-weight="bold" font-size="42.8" transform="translate(44.38,427.37) scale(0.94,1)">−10</text>
<text font-family="Liberation Serif" font-weight="bold" font-size="42.8" transform="translate(87.42,352.53) scale(0.94,1)">0</text>
<text font-family="Liberation Serif" font-weight="bold" font-size="42.8" transform="translate(67.30,277.69) scale(0.94,1)">10</text>
<text font-family="Liberation Serif" font-weight="bold" font-size="42.8" transform="translate(67.30,202.85) scale(0.94,1)">20</text>
<text font-family="Liberation Serif" font-weight="bold" font-size="42.8" transform="translate(67.30,128.01) scale(0.94,1)">30</text>
<text font-family="Liberation Serif" font-weight="bold" font-size="42.8" transform="translate(67.30,53.17) scale(0.94,1)">40</text>
<text font-family="Liberation Serif" font-weight="bold" font-size="44.3" transform="translate(118.08,735.00) scale(0.95,1)">4</text>
<text font-family="Liberation Serif" font-weight="bold" font-size="44.3" transform="translate(205.10,734.57) scale(0.95,1)">6</text>
<text font-family="Liberation Serif" font-weight="bold" font-size="44.3" transform="translate(292.42,734.57) scale(0.95,1)">8</text>
<text font-family="Liberation Serif" font-weight="bold" font-size="44.3" transform="translate(368.23,734.57) scale(0.95,1)">10</text>
<text font-family="Liberation Serif" font-weight="bold" font-size="44.3" transform="translate(455.56,735.00) scale(0.95,1)">12</text>
<text font-family="Liberation Serif" font-weight="bold" font-size="44.3" transform="translate(542.26,735.00) scale(0.95,1)">14</text>
<text font-family="Liberation Serif" font-weight="bold" font-size="44.3" transform="translate(629.71,734.57) scale(0.95,1)">16</text>
<text font-family="Liberation Serif" font-weight="bold" font-size="44.3" transform="translate(717.01,734.57) scale(0.95,1)">18</text>
<text font-family="Liberation Serif" font-weight="bold" font-size="44.3" transform="translate(805.14,734.57) scale(0.95,1)">20</text>
<text font-family="Liberation Serif" font-weight="bold" font-size="44.3" transform="translate(892.46,735.00) scale(0.95,1)">22</text>
<text font-family="Liberation Serif" font-weight="bold" font-size="44" transform="translate(365.8,776.3) scale(0.946,1)">Frequency (GHz)</text>
<text font-family="Liberation Serif" font-weight="bold" font-size="40.3" transform="translate(28.2,430.75) rotate(-90) scale(1.098,1)">PER (dB)</text>
<text font-family="Liberation Serif" font-size="57.2" x="153.1" y="657.6">Bending angle</text>
<text font-family="Liberation Serif" font-weight="bold" font-size="50.6" fill="#003bbe" transform="translate(582.03,111.31) scale(0.984,1)">30</text>
<text font-family="Liberation Serif" font-weight="bold" font-size="33.9" fill="#003bbe" transform="translate(631.64,82.37) scale(0.974,1)">0</text>
<text font-family="Liberation Serif" font-weight="bold" font-size="50.6" fill="#ff0000" transform="translate(781.38,107.31) scale(0.997,1)">20</text>
<text font-family="Liberation Serif" font-weight="bold" font-size="33.9" fill="#ff0000" transform="translate(830.74,78.37) scale(0.974,1)">0</text>
<text font-family="Liberation Serif" font-weight="bold" font-size="50.6" transform="translate(678.78,233.31) scale(0.991,1)">10</text>
<text font-family="Liberation Serif" font-weight="bold" font-size="33.9" transform="translate(728.00,218.37) scale(1.009,1)">0</text>
<text font-family="Liberation Serif" font-weight="bold" font-size="50.6" fill="#385723" transform="translate(681.90,486.31) scale(0.988,1)">10</text>
<text font-family="Liberation Serif" font-weight="bold" font-size="33.9" fill="#385723" transform="translate(731.74,457.47) scale(0.974,1)">0</text>
<text font-family="Liberation Serif" font-weight="bold" font-size="50.6" fill="#7030a0" transform="translate(586.38,608.21) scale(0.997,1)">20</text>
<text font-family="Liberation Serif" font-weight="bold" font-size="33.9" fill="#7030a0" transform="translate(635.78,579.47) scale(1.023,1)">0</text>
<text font-family="Liberation Serif" font-weight="bold" font-size="50.6" fill="#ed7d31" transform="translate(773.92,606.21) scale(0.988,1)">30</text>
<text font-family="Liberation Serif" font-weight="bold" font-size="33.9" fill="#ed7d31" transform="translate(823.74,577.37) scale(0.974,1)">0</text>
<line x1="712" y1="90.1" x2="674.3" y2="90.1" stroke="#003bbe" stroke-width="3.6"/><polygon fill="#003bbe" points="674.3,78.1 649.3,90.1 674.3,102.1"/>
<line x1="712" y1="90.0" x2="752" y2="90.0" stroke="#ff0000" stroke-width="3.6"/><polygon fill="#ff0000" points="752,78.0 777,90.0 752,102.0"/>
<line x1="712.3" y1="90" x2="713.4" y2="157.6" stroke="#000" stroke-width="3.6"/><polygon fill="#000" points="701.1,157.6 713.8,181.6 725.7,157.6"/>
<line x1="711" y1="592" x2="676" y2="592" stroke="#7030a0" stroke-width="3.6"/><polygon fill="#7030a0" points="676,580 651,592 676,604"/>
<line x1="711" y1="592" x2="744.5" y2="592" stroke="#ed7d31" stroke-width="3.6"/><polygon fill="#ed7d31" points="744.5,580 769.5,592 744.5,604"/>
<line x1="711.6" y1="593" x2="710.2" y2="530.6" stroke="#385723" stroke-width="3.6"/><polygon fill="#385723" points="697.9,530.6 709.6,506.6 722.5,530.6"/>
</svg></body></html>
